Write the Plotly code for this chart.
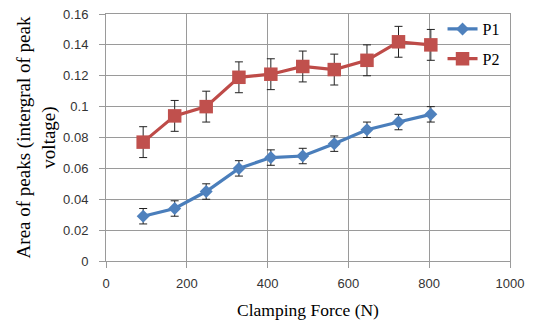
import plotly.graph_objects as go

force = [92, 170, 248, 329, 408, 487, 565, 646, 724, 804]
p1 = [0.029, 0.034, 0.045, 0.060, 0.067, 0.068, 0.076, 0.085, 0.090, 0.095]
p1_err = [0.005] * 10
p2 = [0.077, 0.094, 0.100, 0.119, 0.121, 0.126, 0.124, 0.130, 0.142, 0.140]
p2_err = [0.010] * 10

x_ticks = [0, 200, 400, 600, 800, 1000]
x_tick_labels = ["0", "200", "400", "600", "800", "1000"]
y_ticks = [0, 0.02, 0.04, 0.06, 0.08, 0.1, 0.12, 0.14, 0.16]
y_tick_labels = ["0", "0.02", "0.04", "0.06", "0.08", "0.1", "0.12", "0.14", "0.16"]

BLUE = "#4A7EBB"
RED = "#BE4B48"
GRID = "#9A9A9A"

fig = go.Figure()
fig.add_trace(go.Scatter(
    x=force, y=p1, name="P1", mode="lines+markers", legendgroup="a",
    line=dict(color=BLUE, width=3.2),
    marker=dict(symbol="diamond", size=10, color="#4F81BD"),
    error_y=dict(type="data", array=p1_err, color="#222222", thickness=1, width=4),
))
fig.add_trace(go.Scatter(
    x=force, y=p2, name="P2", mode="lines+markers", legendgroup="b",
    line=dict(color=RED, width=3.2),
    marker=dict(symbol="square", size=13.5, color="#C0504D"),
    error_y=dict(type="data", array=p2_err, color="#222222", thickness=1, width=4),
))

tick_font = dict(family="Liberation Sans", size=13, color="#333333")
fig.update_layout(
    width=538, height=320,
    margin=dict(l=105.5, r=28, t=14, b=59.3, autoexpand=False),
    paper_bgcolor="white", plot_bgcolor="white",
    font=dict(family="Liberation Serif", color="#000000"),
    showlegend=True,
    legend=dict(
        x=0.833, y=1.008, xanchor="left", yanchor="top",
        font=dict(family="Liberation Serif", size=16, color="#000000"),
        bgcolor="rgba(0,0,0,0)", tracegroupgap=6,
    ),
    xaxis=dict(
        range=[0, 1000], tickvals=x_ticks, ticktext=x_tick_labels,
        showgrid=True, gridcolor=GRID, gridwidth=1,
        showline=True, linecolor=GRID, linewidth=1, mirror=True,
        ticks="outside", ticklen=6, tickcolor=GRID, automargin=False,
        tickfont=tick_font, zeroline=False, ticklabelstandoff=4,
        title=dict(text="Clamping Force (N)", font=dict(family="Liberation Serif", size=17.5), standoff=14),
    ),
    yaxis=dict(
        range=[0, 0.16], tickvals=y_ticks, ticktext=y_tick_labels,
        showgrid=True, gridcolor=GRID, gridwidth=1,
        showline=True, linecolor=GRID, linewidth=1, mirror=True,
        ticks="outside", ticklen=6, tickcolor=GRID, automargin=False,
        tickfont=tick_font, zeroline=False, ticklabelstandoff=8,
        title=dict(text="Area of peaks (intergral of peak<br>voltage)",
                   font=dict(family="Liberation Serif", size=19), standoff=2),
    ),
)

fig.write_html("out.html")
